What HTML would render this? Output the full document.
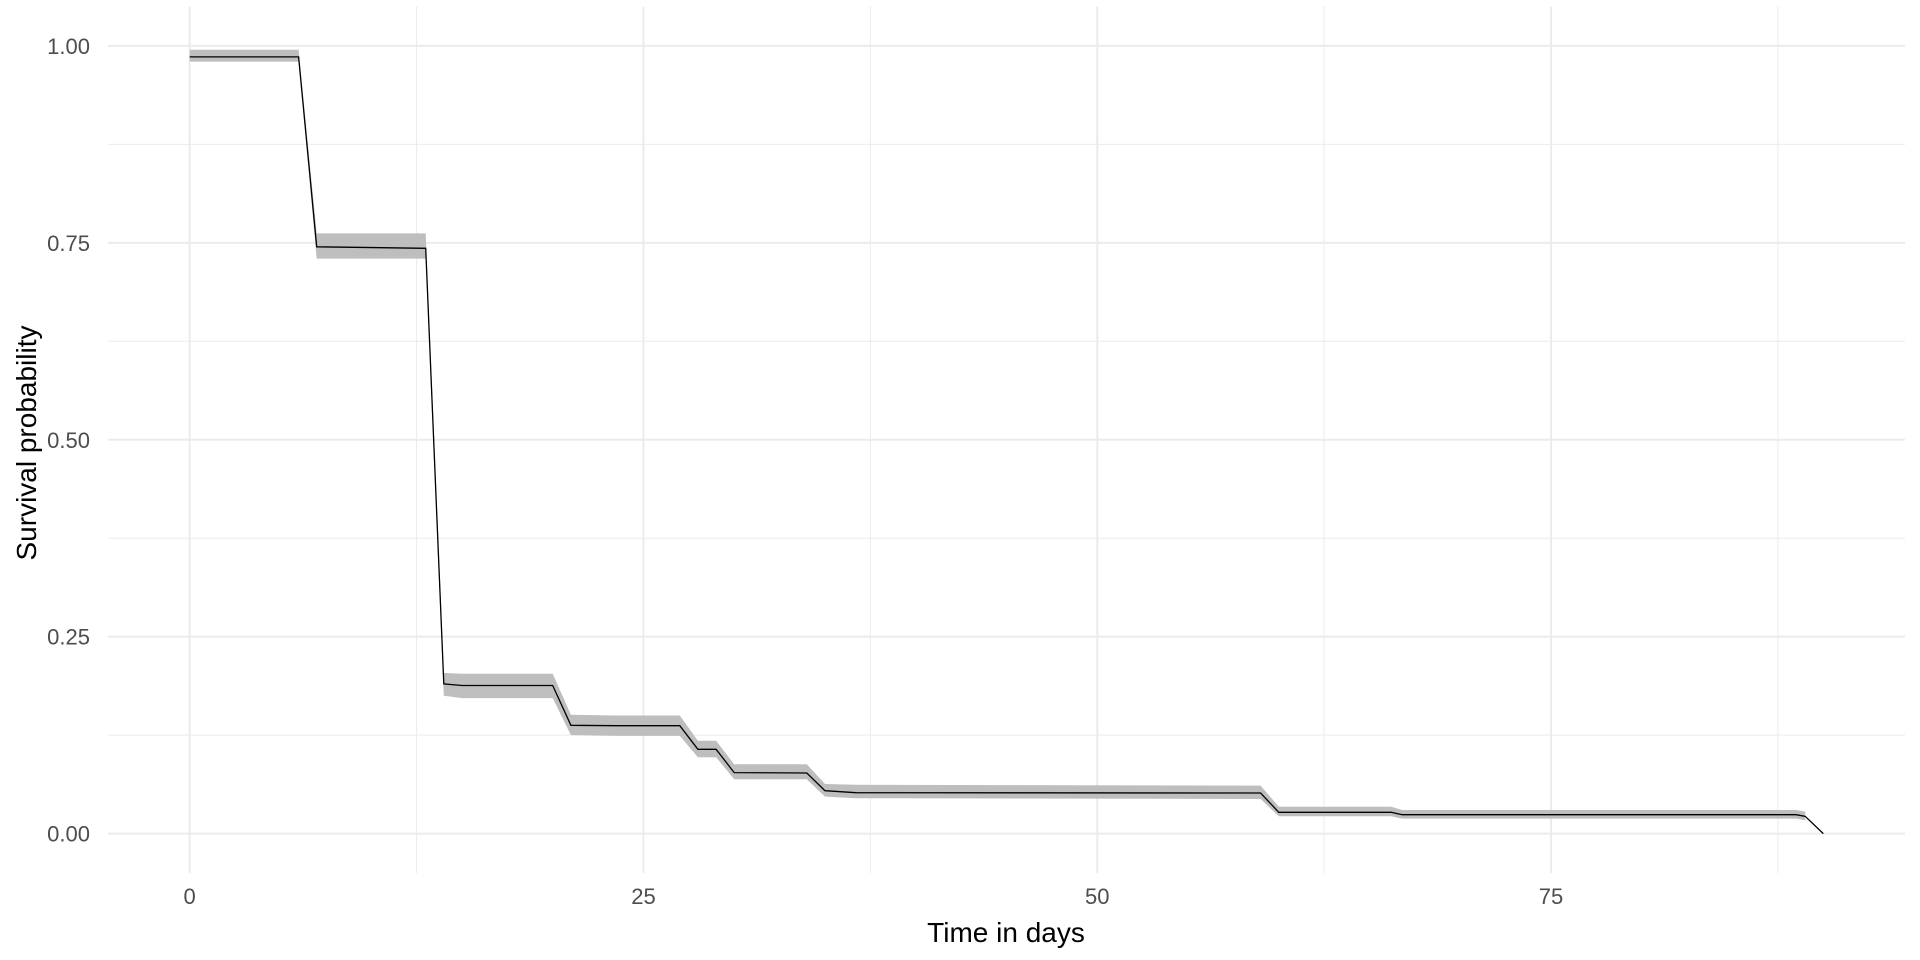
<!DOCTYPE html>
<html><head><meta charset="utf-8"><style>
body{margin:0;background:#fff;}
svg{display:block;font-family:"Liberation Sans",Arial,sans-serif;}
</style></head><body>
<svg id="chart" width="1920" height="960" viewBox="0 0 1920 960" xmlns="http://www.w3.org/2000/svg">
<rect width="1920" height="960" fill="#fff"/>
<g id="grid"></g>
<g id="band"></g>
<g id="line"></g>
<g id="axes"></g>
<text x="1006" y="942" text-anchor="middle" font-size="28" fill="#000">Time in days</text>
<text transform="translate(36,443) rotate(-90)" text-anchor="middle" font-size="28" fill="#000">Survival probability</text>
</svg>
<script>
const times = [0,6,7,13,14,15,20,21,23.5,27,28,29,30,34,35,36.7,59,60,66.2,66.8,88.5,89,90];
const survival = [0.986,0.986,0.745,0.743,0.190,0.188,0.188,0.1375,0.137,0.137,0.107,0.107,0.0775,0.077,0.0545,0.052,0.0516,0.027,0.027,0.024,0.024,0.022,0];
const upper = [0.995,0.995,0.762,0.762,0.204,0.203,0.203,0.151,0.150,0.150,0.118,0.118,0.088,0.088,0.063,0.062,0.061,0.034,0.034,0.030,0.030,0.028,null];
const lower = [0.980,0.980,0.730,0.730,0.175,0.172,0.172,0.125,0.124,0.124,0.097,0.097,0.069,0.069,0.047,0.045,0.044,0.022,0.022,0.019,0.019,0.017,null];
const xTicks = [0,25,50,75];
const xMinor = [12.5,37.5,62.5,87.5];
const yTicks = [0,0.25,0.5,0.75,1];
const yTickLabels = ["0.00","0.25","0.50","0.75","1.00"];
const yMinor = [0.125,0.375,0.625,0.875];

const NS="http://www.w3.org/2000/svg";
const X0=108,X1=1905,Y0=873,Y1=6.5;
const xMin=-4.5,xMax=94.5,yMin=-0.05,yMax=1.05;
const sx=v=>X0+(v-xMin)/(xMax-xMin)*(X1-X0);
const sy=v=>Y0-(v-yMin)/(yMax-yMin)*(Y0-Y1);
function mk(tag,parent,attrs){const e=document.createElementNS(NS,tag);for(const k in attrs)e.setAttribute(k,attrs[k]);document.getElementById(parent).appendChild(e);return e;}

yMinor.forEach(v=>{const e=mk('line','grid',{x1:X0,x2:X1,y1:sy(v),y2:sy(v),stroke:'#ebebeb','stroke-width':1});

});
xMinor.forEach(v=>{const e=mk('line','grid',{x1:sx(v),x2:sx(v),y1:Y1,y2:Y0,stroke:'#ebebeb','stroke-width':1});

});
yTicks.forEach((v,i)=>{const e=mk('line','grid',{x1:X0,x2:X1,y1:sy(v),y2:sy(v),stroke:'#ebebeb','stroke-width':2});


const t=mk('text','axes',{x:90,y:sy(v)+8,'text-anchor':'end','font-size':22,fill:'#4d4d4d'});
t.textContent=yTickLabels[i];

});
xTicks.forEach(v=>{const e=mk('line','grid',{x1:sx(v),x2:sx(v),y1:Y1,y2:Y0,stroke:'#ebebeb','stroke-width':2});


const t=mk('text','axes',{x:sx(v),y:904,'text-anchor':'middle','font-size':22,fill:'#4d4d4d'});
t.textContent=String(v);

});

const idx=times.map((_,i)=>i).filter(i=>upper[i]!==null);
let d='M'+idx.map(i=>sx(times[i]).toFixed(1)+','+sy(upper[i]).toFixed(1)).join('L');
d+='L'+idx.slice().reverse().map(i=>sx(times[i]).toFixed(1)+','+sy(lower[i]).toFixed(1)).join('L')+'Z';
const band=mk('path','band',{d:d,fill:'#bebebe'});



const ld='M'+times.map((t,i)=>sx(t).toFixed(1)+','+sy(survival[i]).toFixed(1)).join('L');
const ln=mk('path','line',{d:ld,fill:'none',stroke:'#000','stroke-width':1.3});


</script>
</body></html>
